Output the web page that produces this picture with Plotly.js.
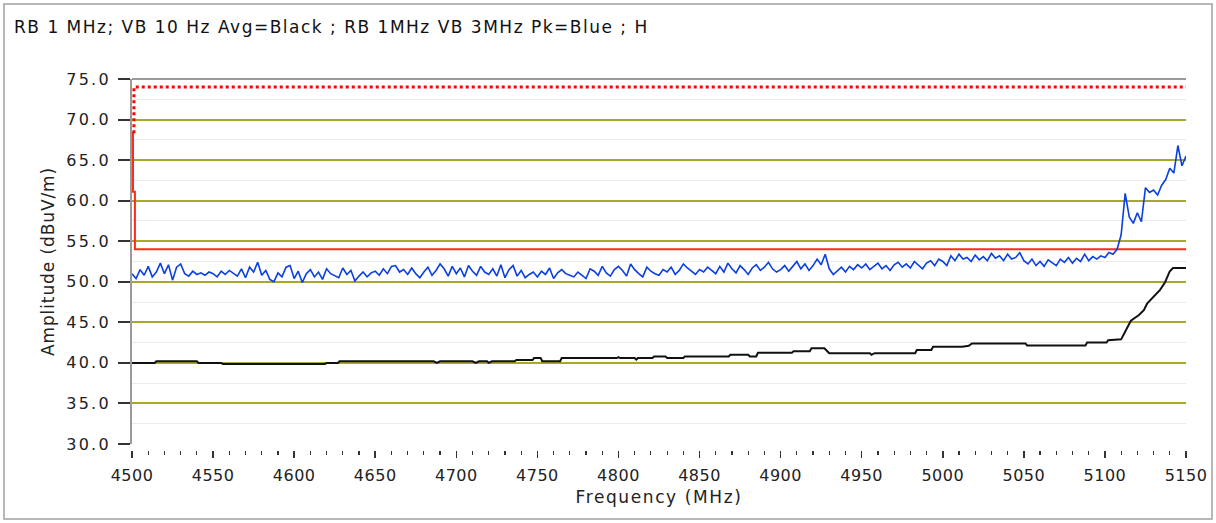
<!DOCTYPE html>
<html>
<head>
<meta charset="utf-8">
<script src="https://cdn.plot.ly/plotly-3.0.1.min.js"></script>
<style>
html,body{margin:0;padding:0;background:#fff;}
#chart{width:1216px;height:523px;}
#chart .gtitle{letter-spacing:1.5px;}
#chart .xtitle{letter-spacing:1.6px;}
#chart .ytitle{letter-spacing:0.9px;}
#chart .xtick text{letter-spacing:0.5px;}
#chart .ytick text{letter-spacing:2.2px;}
</style>
</head>
<body>
<div id="chart"></div>
<script>
// ---- Data ----
var chartTitle = "RB 1 MHz; VB 10 Hz Avg=Black ; RB 1MHz VB 3MHz Pk=Blue ; H";
var xTitle = "Frequency (MHz)";
var yTitle = "Amplitude (dBuV/m)";

// Peak trace (blue), sampled every 2.5 MHz starting at 4500 MHz
var peakStart = 4500;
var peakStep = 2.5;
var peakValues = [
  51.0, 50.4, 51.5, 50.8, 51.9, 50.6, 51.2, 52.3, 51.0, 52.1, 50.2, 51.8, 52.2, 51.0, 50.7, 51.3, 50.9, 51.1, 50.8, 51.2,
  51.0, 50.6, 51.3, 50.9, 51.4, 51.1, 50.7, 51.6, 50.5, 51.8, 51.2, 52.4, 50.8, 51.4, 50.3, 50.0, 51.1, 50.6, 51.8, 52.0,
  50.4, 51.3, 49.9, 51.0, 51.5, 50.6, 51.2, 50.3, 51.6, 51.0, 50.8, 50.5, 51.7, 50.9, 51.4, 50.1, 50.7, 51.2, 50.6, 51.1,
  51.3, 50.8, 51.6, 51.0, 51.9, 52.0, 51.2, 51.5, 50.9, 51.7, 51.0, 50.5, 51.2, 51.8, 50.8, 51.4, 52.2, 51.6, 50.7, 51.9,
  51.0, 51.7, 50.6, 52.0, 51.3, 50.8, 51.9, 51.2, 50.9, 51.6, 50.7, 52.1, 50.5, 51.5, 52.0, 50.7, 51.4, 50.5, 50.9, 51.2,
  50.6, 51.3, 50.9, 51.7, 50.4, 51.1, 51.5, 51.0, 50.8, 50.6, 51.2, 50.8, 50.4, 51.6, 51.3, 50.8, 51.9, 51.1, 50.7, 51.5,
  51.9, 51.4, 50.7, 52.2, 51.5, 51.0, 50.6, 51.8, 51.3, 51.0, 50.8, 51.5, 51.2, 51.8, 50.9, 51.4, 52.2, 51.7, 51.3, 50.9,
  51.5, 51.2, 51.8, 51.4, 51.0, 51.9, 51.2, 52.3, 51.6, 51.1, 52.0, 51.5, 50.9, 51.7, 52.1, 51.4, 51.8, 52.4, 51.6, 51.2,
  51.5, 52.0, 51.3, 51.9, 52.5, 51.6, 52.2, 51.4, 52.0, 52.8, 52.1, 53.4, 51.6, 50.9, 51.4, 51.8, 51.2, 51.9, 51.5, 52.1,
  51.7, 52.2, 51.5, 51.9, 52.3, 51.6, 52.0, 51.4, 52.1, 52.4, 51.8, 52.2, 51.7, 52.5, 52.0, 51.6, 52.3, 52.6, 52.0, 52.8,
  52.5, 52.0, 53.2, 52.6, 53.4, 52.8, 53.0, 52.5, 53.3, 52.7, 53.1, 52.6, 53.5, 52.9, 53.2, 52.6, 53.4, 52.8, 53.0, 53.6,
  52.6, 52.2, 52.8, 52.0, 52.5, 51.9, 52.7, 52.3, 52.0, 52.8, 52.4, 53.0, 52.3, 52.9, 52.5, 53.4, 52.6, 53.1, 52.8, 53.2,
  53.0, 53.6, 53.4, 54.0, 55.8, 60.9, 58.0, 57.2, 58.5, 57.4, 61.6, 61.0, 61.3, 60.7, 61.9, 62.6, 64.0, 63.4, 66.8, 64.3,
  65.5
];

// Average trace (black)
var avgFreq = [4500, 4514, 4515, 4540, 4541, 4555, 4556, 4619, 4620, 4627, 4628, 4686, 4688, 4690, 4710, 4712, 4714,
  4719, 4720, 4722, 4736, 4737, 4747, 4748, 4752, 4753, 4764, 4765, 4799, 4800, 4801, 4810, 4811, 4812, 4821, 4822,
  4829, 4830, 4840, 4841, 4868, 4869, 4880, 4881, 4885, 4886, 4907, 4908, 4918, 4919, 4927, 4930, 4955, 4956, 4958,
  4983, 4984, 4993, 4994, 5012, 5016, 5018, 5051, 5052, 5088, 5089, 5101, 5102, 5110, 5112, 5114, 5116, 5121, 5124,
  5126, 5130, 5134, 5137, 5140, 5142, 5150];
var avgValues = [40.0, 40.0, 40.2, 40.2, 40.0, 40.0, 39.85, 39.85, 40.0, 40.0, 40.2, 40.2, 40.0, 40.2, 40.2, 40.0, 40.2,
  40.2, 40.0, 40.2, 40.2, 40.35, 40.35, 40.6, 40.6, 40.2, 40.2, 40.6, 40.6, 40.7, 40.6, 40.6, 40.4, 40.6, 40.6, 40.8,
  40.8, 40.6, 40.6, 40.8, 40.8, 41.0, 41.0, 40.8, 40.8, 41.25, 41.25, 41.45, 41.45, 41.8, 41.8, 41.2, 41.2, 41.0, 41.2,
  41.2, 41.6, 41.6, 42.0, 42.0, 42.1, 42.4, 42.4, 42.15, 42.15, 42.5, 42.5, 42.8, 42.9, 43.7, 44.3, 45.2, 45.9, 46.5,
  47.3, 48.2, 49.0, 49.9, 51.3, 51.7, 51.7];

// Limit lines (red)
var avgLimitFreq = [4500.6, 4500.6, 4501.8, 4501.8, 5150];
var avgLimitValues = [68.5, 61.1, 61.1, 54.0, 54.0];
var peakLimitFreq = [4501.2, 4501.2, 4502.5, 5150];
var peakLimitValues = [68.3, 74.0, 74.0, 74.0];

var xTickVals = [4500, 4550, 4600, 4650, 4700, 4750, 4800, 4850, 4900, 4950, 5000, 5050, 5100, 5150];
var yTickVals = [30, 35, 40, 45, 50, 55, 60, 65, 70, 75];

// ---- Build ----
var peakFreq = peakValues.map(function(v, i){ return peakStart + i * peakStep; });

var traces = [
  {x: avgFreq, y: avgValues, type: 'scatter', mode: 'lines', line: {color: '#111111', width: 2}, hoverinfo: 'skip'},
  {x: avgLimitFreq, y: avgLimitValues, type: 'scatter', mode: 'lines', line: {color: '#ff2a1a', width: 2}, hoverinfo: 'skip'},
  {x: peakFreq, y: peakValues, type: 'scatter', mode: 'lines', line: {color: '#0a3fe0', width: 1.6}, hoverinfo: 'skip'},
  {x: peakLimitFreq, y: peakLimitValues, type: 'scatter', mode: 'lines', line: {color: '#ff0000', width: 3, dash: 'dot'}, hoverinfo: 'skip'}
];

// plot area: x 132..1186, y 79..444 (data), x-axis drawn 6px below the data bottom
var gapPx = 6;
var plotH = 365 + gapPx;
var fontFam = 'DejaVu Sans, Verdana, sans-serif';
var layout = {
  width: 1216, height: 523,
  margin: {l: 132, r: 30, t: 79, b: 523 - 79 - plotH, pad: 0},
  paper_bgcolor: '#ffffff', plot_bgcolor: '#ffffff',
  showlegend: false,
  font: {family: fontFam, size: 16, color: '#222'},
  title: {text: chartTitle, x: 14/1216, xanchor: 'left', xref: 'container', y: 1 - 27/523, yanchor: 'middle', yref: 'container',
          font: {family: fontFam, size: 17, color: '#111'}},
  xaxis: {
    range: [4500, 5150], tickmode: 'array', tickvals: xTickVals, ticktext: xTickVals.map(String),
    anchor: 'free', position: 0,
    ticks: 'outside', ticklen: 7, tickwidth: 1.5, tickcolor: '#333', ticklabelstandoff: 4,
    showgrid: false, zeroline: false, showline: false,
    tickfont: {family: fontFam, size: 16, color: '#222'},
    minor: {dtick: 10, ticks: 'outside', ticklen: 4, tickwidth: 1.2, tickcolor: '#333', showgrid: false},
    title: {text: xTitle, font: {family: fontFam, size: 17, color: '#222'}, standoff: 6}
  },
  yaxis: {
    domain: [gapPx / plotH, 1],
    range: [30, 75], tickmode: 'array', tickvals: yTickVals, ticktext: yTickVals.map(function(v){return v.toFixed(1);}),
    ticks: 'outside', ticklen: 12, tickwidth: 2, tickcolor: '#333', ticklabelstandoff: 4,
    showgrid: true, gridcolor: '#a8a82a', gridwidth: 2, zeroline: false,
    showline: true, linecolor: '#9a9a9a', linewidth: 2,
    tickfont: {family: fontFam, size: 16, color: '#222'},
    minor: {dtick: 2.5, showgrid: true, gridcolor: '#ebebeb', gridwidth: 1, ticks: ''},
    title: {text: yTitle, font: {family: fontFam, size: 17, color: '#222'}, standoff: 16}
  },
  shapes: [
    {type: 'line', xref: 'paper', yref: 'paper', x0: 0, x1: 1, y0: 1, y1: 1, line: {color: '#9a9a9a', width: 2}, layer: 'above'},
    {type: 'rect', xref: 'paper', yref: 'paper', x0: (4-132)/1054, x1: (1212-132)/1054,
     y0: -(519 - 79 - plotH) / plotH, y1: 1 + (79 - 4) / plotH,
     line: {color: '#a0a0a0', width: 1.5}, fillcolor: 'rgba(0,0,0,0)', layer: 'below'}
  ]
};

Plotly.newPlot('chart', traces, layout, {displayModeBar: false, staticPlot: true});
</script>
</body>
</html>
